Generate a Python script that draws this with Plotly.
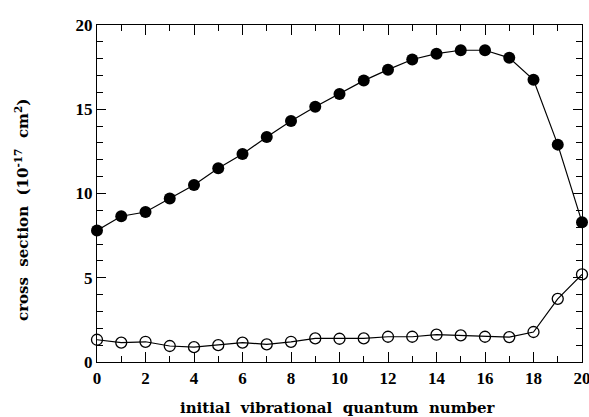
import plotly.graph_objects as go

v = list(range(0, 21))
filled = [7.8, 8.65, 8.9, 9.7, 10.5, 11.5, 12.35, 13.35, 14.3, 15.15, 15.9, 16.7,
          17.35, 17.95, 18.3, 18.5, 18.5, 18.05, 16.75, 12.9, 8.3]
opened = [1.32, 1.15, 1.2, 0.95, 0.88, 1.0, 1.15, 1.05, 1.2, 1.4, 1.38, 1.4,
          1.5, 1.5, 1.62, 1.58, 1.5, 1.48, 1.78, 3.75, 5.2]

x_ticks = list(range(0, 21, 2))
y_ticks = [0, 5, 10, 15, 20]

fig = go.Figure()
fig.add_trace(go.Scatter(
    x=v, y=filled, mode="lines+markers", cliponaxis=False,
    line=dict(color="black", width=1.2),
    marker=dict(symbol="circle", size=12, color="black"),
    showlegend=False))
fig.add_trace(go.Scatter(
    x=v, y=opened, mode="lines+markers", cliponaxis=False,
    line=dict(color="black", width=1.2),
    marker=dict(symbol="circle-open", size=11, color="black", line=dict(width=1.3)),
    showlegend=False))

tickfont = dict(family="Liberation Serif", size=17, color="black", weight="bold")
titlefont = dict(family="DejaVu Serif", size=15, color="black", weight="bold")
sp = "\u00a0\u00a0"
fig.update_layout(
    width=589, height=417,
    margin=dict(l=97, r=7, t=25, b=55),
    paper_bgcolor="white", plot_bgcolor="white",
)
fig.update_xaxes(
    range=[0, 20], tickvals=x_ticks, tickfont=tickfont, ticklabeloverflow="allow",
    automargin=False,
    showline=True, linecolor="black", linewidth=1.2, mirror="ticks",
    ticks="inside", ticklen=10, tickcolor="black", tickwidth=1.2,
    minor=dict(dtick=1, ticks="inside", ticklen=6, tickcolor="black", tickwidth=1.2),
    showgrid=False, zeroline=False,
)
fig.update_yaxes(
    range=[0, 20], tickvals=y_ticks, tickfont=tickfont, ticklabeloverflow="allow",
    automargin=False,
    showline=True, linecolor="black", linewidth=1.2, mirror="ticks",
    ticks="inside", ticklen=9, tickcolor="black", tickwidth=1.2,
    minor=dict(dtick=1, ticks="inside", ticklen=6, tickcolor="black", tickwidth=1.2),
    showgrid=False, zeroline=False,
)
fig.add_annotation(
    text="initial" + sp + "vibrational" + sp + "quantum" + sp + "number",
    font=titlefont, showarrow=False,
    xref="paper", yref="paper", x=0.496, y=(362 - 408) / 337,
    xanchor="center", yanchor="middle",
)
fig.add_annotation(
    text="cross" + sp + "section" + sp + "(10<sup>-17</sup>" + sp + "cm<sup>2</sup>)",
    font=titlefont, textangle=-90, showarrow=False,
    xref="paper", yref="paper", x=-75 / 485, y=(362 - 210) / 337,
    xanchor="center", yanchor="middle",
)
fig.write_html("out.html", config={"displayModeBar": False},
               post_script="document.body.style.margin='0';")
